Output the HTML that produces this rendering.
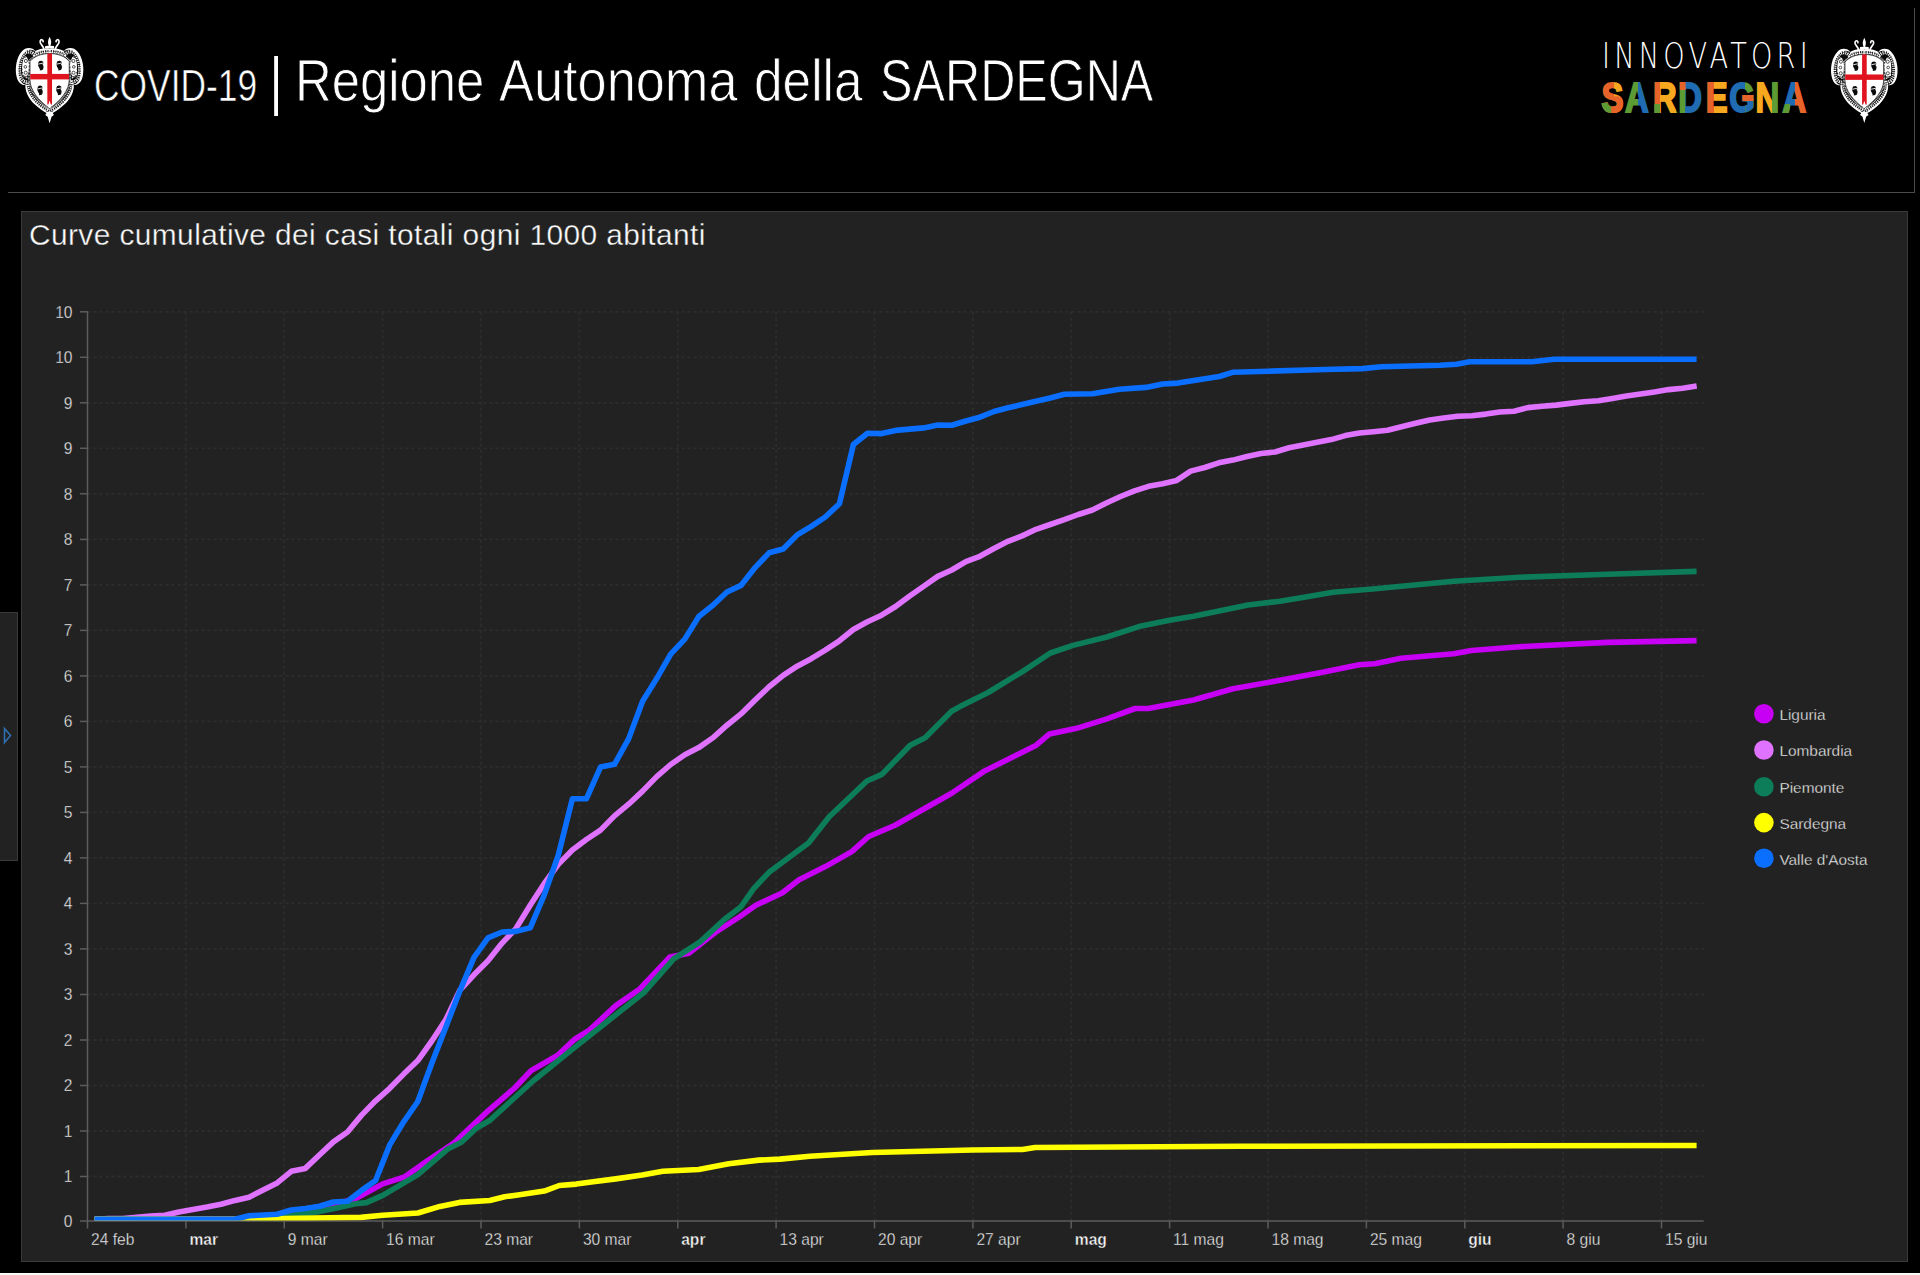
<!DOCTYPE html>
<html lang="it"><head><meta charset="utf-8"><title>COVID-19 | Regione Autonoma della SARDEGNA</title>
<style>
html,body{margin:0;padding:0;background:#000;}
body{width:1920px;height:1275px;position:relative;overflow:hidden;font-family:"Liberation Sans",sans-serif;color:#fff;}
.abs{position:absolute;}
#hdr{left:8px;top:8px;width:1906px;height:184px;border-right:1px solid #4a4a4a;border-bottom:1px solid #4a4a4a;}
.t{position:absolute;white-space:nowrap;line-height:1;transform-origin:0 0;color:#fff;}
#t1{-webkit-text-stroke:0.6px #000;left:93.85px;top:63.9px;font-size:43.8px;transform:scaleX(0.808);}
#bar{left:269.8px;top:48px;font-size:65px;transform:scaleX(0.72);}
.t2{top:51px;font-size:59.4px;-webkit-text-stroke:0.9px #000;}
#w1{left:294.5px;transform:scaleX(0.856);}
#w2{left:498.5px;transform:scaleX(0.881);}
#w3{left:753.8px;transform:scaleX(0.865);}
#w4{left:879.6px;transform:scaleX(0.82);}
#inn{left:1602.2px;top:38.2px;font-family:"DejaVu Sans Light","DejaVu Sans",sans-serif;font-weight:200;font-size:35.6px;letter-spacing:5.5px;transform:scaleX(0.764);}
#panel{left:21px;top:211px;width:1885px;height:1049px;background:#222;border:1px solid #3a3a3a;}
#ptitle{-webkit-text-stroke:0.35px #222;left:28.8px;top:220.5px;font-size:29px;color:#fbfbfb;letter-spacing:0.4px;transform:scaleX(1.03);}
#handle{left:-1px;top:612px;width:16.7px;height:247px;background:#222;border:1px solid #3a3a3a;}
#bottom{left:0;top:1273px;width:1920px;height:2px;background:#fafafa;}
svg{position:absolute;left:0;top:0;}
</style></head><body>
<div id="hdr" class="abs"></div>
<div id="t1" class="t">COVID-19</div>
<div id="bar" class="t">|</div>
<div id="w1" class="t t2">Regione</div> <div id="w2" class="t t2">Autonoma</div> <div id="w3" class="t t2">della</div> <div id="w4" class="t t2">SARDEGNA</div>
<div id="inn" class="t">INNOVATORI</div>
<div id="panel" class="abs"></div>
<div id="ptitle" class="t">Curve cumulative dei casi totali ogni 1000 abitanti</div>
<div id="handle" class="abs"></div>
<div id="bottom" class="abs"></div>
<svg width="1920" height="1275" viewBox="0 0 1920 1275">
<g transform="translate(10 30) scale(0.07843)"><path d="M505 235 C560 225 640 240 690 268 C715 222 810 205 860 275 C925 345 950 480 928 585 C912 665 865 705 812 700 C822 785 765 880 700 945 C640 1000 585 1040 545 1058 L560 1085 L530 1105 L505 1188 L480 1105 L450 1085 L465 1058 C425 1040 370 1000 310 945 C245 880 188 785 198 700 C145 705 98 665 82 585 C60 480 85 345 150 275 C200 205 295 222 320 268 C370 240 450 225 505 235 Z" fill="#ffffff"/><clipPath id="cc10"><rect x="0" y="0" width="1010" height="1045"/></clipPath><g clip-path="url(#cc10)"><path d="M505 235 C560 225 640 240 690 268 C715 222 810 205 860 275 C925 345 950 480 928 585 C912 665 865 705 812 700 C822 785 765 880 700 945 C640 1000 585 1040 545 1058 L560 1085 L530 1105 L505 1188 L480 1105 L450 1085 L465 1058 C425 1040 370 1000 310 945 C245 880 188 785 198 700 C145 705 98 665 82 585 C60 480 85 345 150 275 C200 205 295 222 320 268 C370 240 450 225 505 235 Z" fill="#0b0b0b" transform="translate(505 640) scale(0.925 0.94) translate(-505 -640)"/></g><path d="M505 85 C528 130 532 165 515 200 L560 205 L565 232 L445 232 L450 205 L495 200 C478 165 482 130 505 85 Z" fill="#ffffff"/><path d="M580 250 C572 200 640 185 625 140 C615 115 585 120 588 148 M430 250 C438 200 370 185 385 140 C395 115 425 120 422 148" fill="none" stroke="#ffffff" stroke-width="22" stroke-linecap="round"/><path d="M505 272 C580 266 650 284 700 314 C740 266 800 266 835 309 C880 364 900 480 885 570 C872 630 840 660 790 662 C800 760 745 850 685 910 C630 965 570 1005 505 1030 C440 1005 380 965 325 910 C265 850 210 760 220 662 C170 660 138 630 125 570 C110 480 130 364 175 309 C210 266 270 266 310 314 C360 284 430 266 505 272 Z" fill="none" stroke="#ffffff" stroke-width="42" stroke-dasharray="17 11"/><path d="M505 272 C580 266 650 284 700 314 C740 266 800 266 835 309 C880 364 900 480 885 570 C872 630 840 660 790 662 C800 760 745 850 685 910 C630 965 570 1005 505 1030 C440 1005 380 965 325 910 C265 850 210 760 220 662 C170 660 138 630 125 570 C110 480 130 364 175 309 C210 266 270 266 310 314 C360 284 430 266 505 272 Z" fill="none" stroke="#0b0b0b" stroke-width="7" stroke-dasharray="30 12"/><path d="M800 350 C845 400 855 520 838 600 M765 430 C800 450 808 560 792 620 M210 350 C165 400 155 520 172 600 M245 430 C210 450 202 560 218 620" fill="none" stroke="#ffffff" stroke-width="16" stroke-dasharray="26 16"/><ellipse cx="812" cy="470" rx="42" ry="135" fill="#ffffff"/><circle cx="808" cy="395" r="20" fill="none" stroke="#0b0b0b" stroke-width="9"/><circle cx="814" cy="470" r="17" fill="none" stroke="#0b0b0b" stroke-width="9"/><circle cx="810" cy="545" r="20" fill="none" stroke="#0b0b0b" stroke-width="9"/><path d="M777 330 L842 360 M774 600 L842 585" stroke="#0b0b0b" stroke-width="9" fill="none"/><ellipse cx="198" cy="470" rx="42" ry="135" fill="#ffffff"/><circle cx="202" cy="395" r="20" fill="none" stroke="#0b0b0b" stroke-width="9"/><circle cx="196" cy="470" r="17" fill="none" stroke="#0b0b0b" stroke-width="9"/><circle cx="200" cy="545" r="20" fill="none" stroke="#0b0b0b" stroke-width="9"/><path d="M233 330 L168 360 M236 600 L168 585" stroke="#0b0b0b" stroke-width="9" fill="none"/><path d="M505 300 C600 300 700 330 755 400 L755 640 C755 760 650 900 505 1000 C360 900 255 760 255 640 L255 400 C310 330 410 300 505 300 Z" fill="none" stroke="#ffffff" stroke-width="44" stroke-dasharray="9 9"/><path d="M505 300 C600 300 700 330 755 400 L755 640 C755 760 650 900 505 1000 C360 900 255 760 255 640 L255 400 C310 330 410 300 505 300 Z" fill="#ffffff" stroke="#0b0b0b" stroke-width="9"/><rect x="476" y="300" width="60" height="650" fill="#e0141e"/><rect x="258" y="560" width="494" height="70" fill="#e0141e"/><path d="M490 950 L505 900 L520 950 L520 990 L490 990 Z" fill="#fff"/><g transform="translate(395 455)"><path d="M-25 -55 C0 -75 35 -60 30 -30 L20 -15 C40 0 35 35 20 55 L-15 60 C-5 40 -30 25 -35 0 C-38 -20 -35 -40 -25 -55 Z" fill="#0a0a0a"/><path d="M-34 -20 L30 -34" stroke="#fff" stroke-width="11"/></g><g transform="translate(630 455)"><path d="M-25 -55 C0 -75 35 -60 30 -30 L20 -15 C40 0 35 35 20 55 L-15 60 C-5 40 -30 25 -35 0 C-38 -20 -35 -40 -25 -55 Z" fill="#0a0a0a"/><path d="M-34 -20 L30 -34" stroke="#fff" stroke-width="11"/></g><g transform="translate(385 772)"><path d="M-25 -55 C0 -75 35 -60 30 -30 L20 -15 C40 0 35 35 20 55 L-15 60 C-5 40 -30 25 -35 0 C-38 -20 -35 -40 -25 -55 Z" fill="#0a0a0a"/><path d="M-34 -20 L30 -34" stroke="#fff" stroke-width="11"/></g><g transform="translate(625 772)"><path d="M-25 -55 C0 -75 35 -60 30 -30 L20 -15 C40 0 35 35 20 55 L-15 60 C-5 40 -30 25 -35 0 C-38 -20 -35 -40 -25 -55 Z" fill="#0a0a0a"/><path d="M-34 -20 L30 -34" stroke="#fff" stroke-width="11"/></g></g>
<g transform="translate(1825.3005 31.200499999999995) scale(0.07725)"><path d="M505 235 C560 225 640 240 690 268 C715 222 810 205 860 275 C925 345 950 480 928 585 C912 665 865 705 812 700 C822 785 765 880 700 945 C640 1000 585 1040 545 1058 L560 1085 L530 1105 L505 1188 L480 1105 L450 1085 L465 1058 C425 1040 370 1000 310 945 C245 880 188 785 198 700 C145 705 98 665 82 585 C60 480 85 345 150 275 C200 205 295 222 320 268 C370 240 450 225 505 235 Z" fill="#ffffff"/><clipPath id="cc1825"><rect x="0" y="0" width="1010" height="1045"/></clipPath><g clip-path="url(#cc1825)"><path d="M505 235 C560 225 640 240 690 268 C715 222 810 205 860 275 C925 345 950 480 928 585 C912 665 865 705 812 700 C822 785 765 880 700 945 C640 1000 585 1040 545 1058 L560 1085 L530 1105 L505 1188 L480 1105 L450 1085 L465 1058 C425 1040 370 1000 310 945 C245 880 188 785 198 700 C145 705 98 665 82 585 C60 480 85 345 150 275 C200 205 295 222 320 268 C370 240 450 225 505 235 Z" fill="#0b0b0b" transform="translate(505 640) scale(0.925 0.94) translate(-505 -640)"/></g><path d="M505 85 C528 130 532 165 515 200 L560 205 L565 232 L445 232 L450 205 L495 200 C478 165 482 130 505 85 Z" fill="#ffffff"/><path d="M580 250 C572 200 640 185 625 140 C615 115 585 120 588 148 M430 250 C438 200 370 185 385 140 C395 115 425 120 422 148" fill="none" stroke="#ffffff" stroke-width="22" stroke-linecap="round"/><path d="M505 272 C580 266 650 284 700 314 C740 266 800 266 835 309 C880 364 900 480 885 570 C872 630 840 660 790 662 C800 760 745 850 685 910 C630 965 570 1005 505 1030 C440 1005 380 965 325 910 C265 850 210 760 220 662 C170 660 138 630 125 570 C110 480 130 364 175 309 C210 266 270 266 310 314 C360 284 430 266 505 272 Z" fill="none" stroke="#ffffff" stroke-width="42" stroke-dasharray="17 11"/><path d="M505 272 C580 266 650 284 700 314 C740 266 800 266 835 309 C880 364 900 480 885 570 C872 630 840 660 790 662 C800 760 745 850 685 910 C630 965 570 1005 505 1030 C440 1005 380 965 325 910 C265 850 210 760 220 662 C170 660 138 630 125 570 C110 480 130 364 175 309 C210 266 270 266 310 314 C360 284 430 266 505 272 Z" fill="none" stroke="#0b0b0b" stroke-width="7" stroke-dasharray="30 12"/><path d="M800 350 C845 400 855 520 838 600 M765 430 C800 450 808 560 792 620 M210 350 C165 400 155 520 172 600 M245 430 C210 450 202 560 218 620" fill="none" stroke="#ffffff" stroke-width="16" stroke-dasharray="26 16"/><ellipse cx="812" cy="470" rx="42" ry="135" fill="#ffffff"/><circle cx="808" cy="395" r="20" fill="none" stroke="#0b0b0b" stroke-width="9"/><circle cx="814" cy="470" r="17" fill="none" stroke="#0b0b0b" stroke-width="9"/><circle cx="810" cy="545" r="20" fill="none" stroke="#0b0b0b" stroke-width="9"/><path d="M777 330 L842 360 M774 600 L842 585" stroke="#0b0b0b" stroke-width="9" fill="none"/><ellipse cx="198" cy="470" rx="42" ry="135" fill="#ffffff"/><circle cx="202" cy="395" r="20" fill="none" stroke="#0b0b0b" stroke-width="9"/><circle cx="196" cy="470" r="17" fill="none" stroke="#0b0b0b" stroke-width="9"/><circle cx="200" cy="545" r="20" fill="none" stroke="#0b0b0b" stroke-width="9"/><path d="M233 330 L168 360 M236 600 L168 585" stroke="#0b0b0b" stroke-width="9" fill="none"/><path d="M505 300 C600 300 700 330 755 400 L755 640 C755 760 650 900 505 1000 C360 900 255 760 255 640 L255 400 C310 330 410 300 505 300 Z" fill="none" stroke="#ffffff" stroke-width="44" stroke-dasharray="9 9"/><path d="M505 300 C600 300 700 330 755 400 L755 640 C755 760 650 900 505 1000 C360 900 255 760 255 640 L255 400 C310 330 410 300 505 300 Z" fill="#ffffff" stroke="#0b0b0b" stroke-width="9"/><rect x="476" y="300" width="60" height="650" fill="#e0141e"/><rect x="258" y="560" width="494" height="70" fill="#e0141e"/><path d="M490 950 L505 900 L520 950 L520 990 L490 990 Z" fill="#fff"/><g transform="translate(395 455)"><path d="M-25 -55 C0 -75 35 -60 30 -30 L20 -15 C40 0 35 35 20 55 L-15 60 C-5 40 -30 25 -35 0 C-38 -20 -35 -40 -25 -55 Z" fill="#0a0a0a"/><path d="M-34 -20 L30 -34" stroke="#fff" stroke-width="11"/></g><g transform="translate(630 455)"><path d="M-25 -55 C0 -75 35 -60 30 -30 L20 -15 C40 0 35 35 20 55 L-15 60 C-5 40 -30 25 -35 0 C-38 -20 -35 -40 -25 -55 Z" fill="#0a0a0a"/><path d="M-34 -20 L30 -34" stroke="#fff" stroke-width="11"/></g><g transform="translate(385 772)"><path d="M-25 -55 C0 -75 35 -60 30 -30 L20 -15 C40 0 35 35 20 55 L-15 60 C-5 40 -30 25 -35 0 C-38 -20 -35 -40 -25 -55 Z" fill="#0a0a0a"/><path d="M-34 -20 L30 -34" stroke="#fff" stroke-width="11"/></g><g transform="translate(625 772)"><path d="M-25 -55 C0 -75 35 -60 30 -30 L20 -15 C40 0 35 35 20 55 L-15 60 C-5 40 -30 25 -35 0 C-38 -20 -35 -40 -25 -55 Z" fill="#0a0a0a"/><path d="M-34 -20 L30 -34" stroke="#fff" stroke-width="11"/></g></g>
<defs><linearGradient id="sg" gradientUnits="userSpaceOnUse" x1="2080.39" y1="0" x2="2348.05" y2="0"><stop offset="0.0000" stop-color="#e8632a"/><stop offset="0.0563" stop-color="#e8632a"/><stop offset="0.0563" stop-color="#f8a81f"/><stop offset="0.1087" stop-color="#f8a81f"/><stop offset="0.1087" stop-color="#5d9b34"/><stop offset="0.1752" stop-color="#5d9b34"/><stop offset="0.1752" stop-color="#1f6cb3"/><stop offset="0.2407" stop-color="#1f6cb3"/><stop offset="0.2407" stop-color="#e8632a"/><stop offset="0.2819" stop-color="#e8632a"/><stop offset="0.2819" stop-color="#f8a81f"/><stop offset="0.3595" stop-color="#f8a81f"/><stop offset="0.3595" stop-color="#5d9b34"/><stop offset="0.4056" stop-color="#5d9b34"/><stop offset="0.4056" stop-color="#1f6cb3"/><stop offset="0.4954" stop-color="#1f6cb3"/><stop offset="0.4954" stop-color="#e8632a"/><stop offset="0.5415" stop-color="#e8632a"/><stop offset="0.5415" stop-color="#f8a81f"/><stop offset="0.6118" stop-color="#f8a81f"/><stop offset="0.6118" stop-color="#1f6cb3"/><stop offset="0.6967" stop-color="#1f6cb3"/><stop offset="0.6967" stop-color="#5d9b34"/><stop offset="0.7356" stop-color="#5d9b34"/><stop offset="0.7356" stop-color="#f8a81f"/><stop offset="0.8253" stop-color="#f8a81f"/><stop offset="0.8253" stop-color="#5d9b34"/><stop offset="0.8690" stop-color="#5d9b34"/><stop offset="0.8690" stop-color="#1f6cb3"/><stop offset="0.9393" stop-color="#1f6cb3"/><stop offset="0.9393" stop-color="#e8632a"/><stop offset="1.0000" stop-color="#e8632a"/></linearGradient><clipPath id="cp0"><rect x="1601" y="102.5" width="10.5" height="12"/></clipPath><clipPath id="cp1"><rect x="1611.5" y="96.5" width="12.8" height="18"/></clipPath><clipPath id="cp2"><rect x="1651.5" y="104" width="8.5" height="10"/></clipPath><clipPath id="cp3"><rect x="1676" y="80" width="9.5" height="10"/></clipPath><clipPath id="cp4"><rect x="1741" y="92.5" width="12.5" height="8.5"/></clipPath><clipPath id="cp5"><rect x="1745.5" y="101" width="8" height="13"/></clipPath><clipPath id="cp6"><rect x="1781" y="104" width="9" height="10"/></clipPath></defs><text transform="scale(0.77 1)" x="2079.74 2110.26 2146.75 2179.48 2215.32 2245.71 2280.00 2315.06" y="111.6" font-family="Liberation Sans, sans-serif" font-weight="bold" font-size="42.6" fill="url(#sg)" stroke="url(#sg)" stroke-width="2" stroke-linejoin="miter" >SARDEGNA</text><g clip-path="url(#cp0)"><text transform="scale(0.77 1)" x="2079.74 2110.26 2146.75 2179.48 2215.32 2245.71 2280.00 2315.06" y="111.6" font-family="Liberation Sans, sans-serif" font-weight="bold" font-size="42.6" fill="#5d9b34" stroke="#5d9b34" stroke-width="2" stroke-linejoin="miter" >SARDEGNA</text></g><g clip-path="url(#cp1)"><text transform="scale(0.77 1)" x="2079.74 2110.26 2146.75 2179.48 2215.32 2245.71 2280.00 2315.06" y="111.6" font-family="Liberation Sans, sans-serif" font-weight="bold" font-size="42.6" fill="#e8632a" stroke="#e8632a" stroke-width="2" stroke-linejoin="miter" >SARDEGNA</text></g><g clip-path="url(#cp2)"><text transform="scale(0.77 1)" x="2079.74 2110.26 2146.75 2179.48 2215.32 2245.71 2280.00 2315.06" y="111.6" font-family="Liberation Sans, sans-serif" font-weight="bold" font-size="42.6" fill="#5d9b34" stroke="#5d9b34" stroke-width="2" stroke-linejoin="miter" >SARDEGNA</text></g><g clip-path="url(#cp3)"><text transform="scale(0.77 1)" x="2079.74 2110.26 2146.75 2179.48 2215.32 2245.71 2280.00 2315.06" y="111.6" font-family="Liberation Sans, sans-serif" font-weight="bold" font-size="42.6" fill="#e8632a" stroke="#e8632a" stroke-width="2" stroke-linejoin="miter" >SARDEGNA</text></g><g clip-path="url(#cp4)"><text transform="scale(0.77 1)" x="2079.74 2110.26 2146.75 2179.48 2215.32 2245.71 2280.00 2315.06" y="111.6" font-family="Liberation Sans, sans-serif" font-weight="bold" font-size="42.6" fill="#e8632a" stroke="#e8632a" stroke-width="2" stroke-linejoin="miter" >SARDEGNA</text></g><g clip-path="url(#cp5)"><text transform="scale(0.77 1)" x="2079.74 2110.26 2146.75 2179.48 2215.32 2245.71 2280.00 2315.06" y="111.6" font-family="Liberation Sans, sans-serif" font-weight="bold" font-size="42.6" fill="#1f6cb3" stroke="#1f6cb3" stroke-width="2" stroke-linejoin="miter" >SARDEGNA</text></g><g clip-path="url(#cp6)"><text transform="scale(0.77 1)" x="2079.74 2110.26 2146.75 2179.48 2215.32 2245.71 2280.00 2315.06" y="111.6" font-family="Liberation Sans, sans-serif" font-weight="bold" font-size="42.6" fill="#5d9b34" stroke="#5d9b34" stroke-width="2" stroke-linejoin="miter" >SARDEGNA</text></g>
<path d="M4.5 728.5 L10.5 735.5 L4.5 742.5 Z" fill="none" stroke="#2f6fb0" stroke-width="1.6"/>
<g stroke="#2d2d2d" stroke-width="1.8" stroke-dasharray="3 3" fill="none"><line x1="87.5" y1="1176.5" x2="1703.7" y2="1176.5"/><line x1="87.5" y1="1131.0" x2="1703.7" y2="1131.0"/><line x1="87.5" y1="1085.5" x2="1703.7" y2="1085.5"/><line x1="87.5" y1="1040.0" x2="1703.7" y2="1040.0"/><line x1="87.5" y1="994.5" x2="1703.7" y2="994.5"/><line x1="87.5" y1="948.9" x2="1703.7" y2="948.9"/><line x1="87.5" y1="903.4" x2="1703.7" y2="903.4"/><line x1="87.5" y1="857.9" x2="1703.7" y2="857.9"/><line x1="87.5" y1="812.4" x2="1703.7" y2="812.4"/><line x1="87.5" y1="766.9" x2="1703.7" y2="766.9"/><line x1="87.5" y1="721.4" x2="1703.7" y2="721.4"/><line x1="87.5" y1="675.9" x2="1703.7" y2="675.9"/><line x1="87.5" y1="630.4" x2="1703.7" y2="630.4"/><line x1="87.5" y1="584.9" x2="1703.7" y2="584.9"/><line x1="87.5" y1="539.4" x2="1703.7" y2="539.4"/><line x1="87.5" y1="493.8" x2="1703.7" y2="493.8"/><line x1="87.5" y1="448.3" x2="1703.7" y2="448.3"/><line x1="87.5" y1="402.8" x2="1703.7" y2="402.8"/><line x1="87.5" y1="357.3" x2="1703.7" y2="357.3"/><line x1="87.5" y1="311.8" x2="1703.7" y2="311.8"/><line x1="185.9" y1="311.8" x2="185.9" y2="1220.9"/><line x1="284.2" y1="311.8" x2="284.2" y2="1220.9"/><line x1="382.6" y1="311.8" x2="382.6" y2="1220.9"/><line x1="481.0" y1="311.8" x2="481.0" y2="1220.9"/><line x1="579.4" y1="311.8" x2="579.4" y2="1220.9"/><line x1="677.8" y1="311.8" x2="677.8" y2="1220.9"/><line x1="776.1" y1="311.8" x2="776.1" y2="1220.9"/><line x1="874.5" y1="311.8" x2="874.5" y2="1220.9"/><line x1="972.9" y1="311.8" x2="972.9" y2="1220.9"/><line x1="1071.2" y1="311.8" x2="1071.2" y2="1220.9"/><line x1="1169.6" y1="311.8" x2="1169.6" y2="1220.9"/><line x1="1268.0" y1="311.8" x2="1268.0" y2="1220.9"/><line x1="1366.4" y1="311.8" x2="1366.4" y2="1220.9"/><line x1="1464.8" y1="311.8" x2="1464.8" y2="1220.9"/><line x1="1563.1" y1="311.8" x2="1563.1" y2="1220.9"/><line x1="1661.5" y1="311.8" x2="1661.5" y2="1220.9"/></g>
<g stroke="#5c5c5c" stroke-width="1.5" fill="none"><line x1="87.5" y1="311.3" x2="87.5" y2="1228.4"/><line x1="80.0" y1="1220.9" x2="1703.7" y2="1220.9"/><line x1="80.0" y1="1176.5" x2="87.5" y2="1176.5"/><line x1="80.0" y1="1131.0" x2="87.5" y2="1131.0"/><line x1="80.0" y1="1085.5" x2="87.5" y2="1085.5"/><line x1="80.0" y1="1040.0" x2="87.5" y2="1040.0"/><line x1="80.0" y1="994.5" x2="87.5" y2="994.5"/><line x1="80.0" y1="948.9" x2="87.5" y2="948.9"/><line x1="80.0" y1="903.4" x2="87.5" y2="903.4"/><line x1="80.0" y1="857.9" x2="87.5" y2="857.9"/><line x1="80.0" y1="812.4" x2="87.5" y2="812.4"/><line x1="80.0" y1="766.9" x2="87.5" y2="766.9"/><line x1="80.0" y1="721.4" x2="87.5" y2="721.4"/><line x1="80.0" y1="675.9" x2="87.5" y2="675.9"/><line x1="80.0" y1="630.4" x2="87.5" y2="630.4"/><line x1="80.0" y1="584.9" x2="87.5" y2="584.9"/><line x1="80.0" y1="539.4" x2="87.5" y2="539.4"/><line x1="80.0" y1="493.8" x2="87.5" y2="493.8"/><line x1="80.0" y1="448.3" x2="87.5" y2="448.3"/><line x1="80.0" y1="402.8" x2="87.5" y2="402.8"/><line x1="80.0" y1="357.3" x2="87.5" y2="357.3"/><line x1="80.0" y1="311.8" x2="87.5" y2="311.8"/><line x1="185.9" y1="1220.9" x2="185.9" y2="1228.4"/><line x1="284.2" y1="1220.9" x2="284.2" y2="1228.4"/><line x1="382.6" y1="1220.9" x2="382.6" y2="1228.4"/><line x1="481.0" y1="1220.9" x2="481.0" y2="1228.4"/><line x1="579.4" y1="1220.9" x2="579.4" y2="1228.4"/><line x1="677.8" y1="1220.9" x2="677.8" y2="1228.4"/><line x1="776.1" y1="1220.9" x2="776.1" y2="1228.4"/><line x1="874.5" y1="1220.9" x2="874.5" y2="1228.4"/><line x1="972.9" y1="1220.9" x2="972.9" y2="1228.4"/><line x1="1071.2" y1="1220.9" x2="1071.2" y2="1228.4"/><line x1="1169.6" y1="1220.9" x2="1169.6" y2="1228.4"/><line x1="1268.0" y1="1220.9" x2="1268.0" y2="1228.4"/><line x1="1366.4" y1="1220.9" x2="1366.4" y2="1228.4"/><line x1="1464.8" y1="1220.9" x2="1464.8" y2="1228.4"/><line x1="1563.1" y1="1220.9" x2="1563.1" y2="1228.4"/><line x1="1661.5" y1="1220.9" x2="1661.5" y2="1228.4"/></g>
<g fill="#f6f6f6" stroke="#222" stroke-width="0.35" font-family="Liberation Sans, sans-serif" font-size="15.6"><text x="72.5" y="1226.6" text-anchor="end">0</text><text x="72.5" y="1182.2" text-anchor="end">1</text><text x="72.5" y="1136.7" text-anchor="end">1</text><text x="72.5" y="1091.2" text-anchor="end">2</text><text x="72.5" y="1045.7" text-anchor="end">2</text><text x="72.5" y="1000.2" text-anchor="end">3</text><text x="72.5" y="954.6" text-anchor="end">3</text><text x="72.5" y="909.1" text-anchor="end">4</text><text x="72.5" y="863.6" text-anchor="end">4</text><text x="72.5" y="818.1" text-anchor="end">5</text><text x="72.5" y="772.6" text-anchor="end">5</text><text x="72.5" y="727.1" text-anchor="end">6</text><text x="72.5" y="681.6" text-anchor="end">6</text><text x="72.5" y="636.1" text-anchor="end">7</text><text x="72.5" y="590.6" text-anchor="end">7</text><text x="72.5" y="545.1" text-anchor="end">8</text><text x="72.5" y="499.5" text-anchor="end">8</text><text x="72.5" y="454.0" text-anchor="end">9</text><text x="72.5" y="408.5" text-anchor="end">9</text><text x="72.5" y="363.0" text-anchor="end">10</text><text x="72.5" y="317.5" text-anchor="end">10</text><text x="91.0" y="1244.6">24 feb</text><text x="189.4" y="1244.6" font-weight="bold">mar</text><text x="287.8" y="1244.6">9 mar</text><text x="386.1" y="1244.6">16 mar</text><text x="484.5" y="1244.6">23 mar</text><text x="582.9" y="1244.6">30 mar</text><text x="681.2" y="1244.6" font-weight="bold">apr</text><text x="779.6" y="1244.6">13 apr</text><text x="878.0" y="1244.6">20 apr</text><text x="976.4" y="1244.6">27 apr</text><text x="1074.8" y="1244.6" font-weight="bold">mag</text><text x="1173.1" y="1244.6">11 mag</text><text x="1271.5" y="1244.6">18 mag</text><text x="1369.9" y="1244.6">25 mag</text><text x="1468.2" y="1244.6" font-weight="bold">giu</text><text x="1566.6" y="1244.6">8 giu</text><text x="1665.0" y="1244.6">15 giu</text></g>
<defs><clipPath id="plot"><rect x="87.5" y="301.8" width="1616.2" height="918.6"/></clipPath></defs><g clip-path="url(#plot)">
<polyline points="94.5,1219.4 180.0,1219.4 250.0,1218.5 291.0,1214.5 320.0,1210.0 340.0,1203.0 355.3,1198.7 382.8,1183.9 404.7,1176.8 426.7,1161.4 453.9,1143.1 487.8,1111.1 514.1,1088.5 531.1,1070.6 557.4,1055.5 574.4,1039.5 589.5,1030.1 615.8,1005.6 639.8,989.0 670.0,957.0 688.8,953.2 715.2,932.5 740.0,916.5 755.8,905.2 782.1,893.0 799.1,879.8 825.4,866.6 851.8,851.6 868.7,836.5 895.1,825.2 951.6,793.2 983.6,771.6 1013.7,756.5 1036.3,745.2 1049.5,733.9 1076.7,728.3 1106.9,718.9 1135.1,708.5 1148.3,708.5 1193.5,700.0 1233.0,688.7 1280.1,680.3 1320.0,672.7 1359.3,664.8 1374.7,663.7 1401.1,658.2 1453.8,653.8 1471.4,650.5 1519.7,646.7 1607.6,642.4 1696.6,640.6" fill="none" stroke="#c700f5" stroke-width="5.6" stroke-linejoin="round" stroke-linecap="butt"/>
<polyline points="94.5,1219.2 108.6,1218.6 122.6,1218.5 136.7,1217.2 150.7,1216.0 164.8,1215.2 178.9,1211.9 192.9,1209.5 207.0,1207.1 221.0,1204.3 235.1,1200.4 249.1,1197.2 263.2,1189.9 277.2,1182.9 291.3,1171.3 305.3,1168.4 319.4,1155.0 333.4,1141.9 347.5,1132.0 361.6,1115.1 375.6,1100.8 389.7,1088.3 403.7,1074.1 417.8,1060.6 431.8,1041.0 445.9,1019.5 459.9,990.1 474.0,974.8 488.0,960.7 502.1,943.1 516.1,928.3 530.2,905.3 544.3,883.5 558.3,864.4 572.4,850.0 586.4,839.5 600.5,830.1 614.5,815.9 628.6,804.2 642.6,791.1 656.7,776.6 670.7,764.5 684.8,754.8 698.8,747.6 712.9,737.8 727.0,725.2 741.0,713.9 755.1,700.0 769.1,686.8 783.2,675.4 797.2,666.2 811.3,658.7 825.3,650.2 839.4,640.8 853.4,629.5 867.5,621.8 881.6,615.2 895.6,606.5 909.7,596.0 923.7,586.3 937.8,576.4 951.8,570.0 965.9,561.6 979.9,556.3 994.0,548.5 1008.0,541.3 1022.1,535.9 1036.1,529.3 1050.2,524.5 1064.3,519.7 1078.3,514.5 1092.4,510.0 1106.4,503.0 1120.5,496.5 1134.5,490.8 1148.6,486.3 1162.6,483.7 1176.7,480.4 1190.7,471.1 1204.8,467.5 1218.8,462.8 1232.9,460.1 1247.0,456.5 1261.0,453.5 1275.1,452.0 1289.1,447.8 1303.2,445.1 1317.2,442.3 1331.3,439.6 1345.3,435.6 1359.4,433.0 1373.4,431.7 1387.5,430.3 1401.5,426.8 1415.6,423.3 1429.7,420.1 1443.7,418.1 1457.8,416.2 1471.8,415.8 1485.9,414.1 1499.9,412.0 1514.0,411.2 1528.0,407.6 1542.1,406.3 1556.1,405.1 1570.2,403.4 1584.3,401.7 1598.3,400.8 1612.4,398.5 1626.4,396.0 1640.5,394.1 1654.5,391.9 1668.6,389.6 1682.6,388.3 1696.7,386.1" fill="none" stroke="#df73ff" stroke-width="5.6" stroke-linejoin="round" stroke-linecap="butt"/>
<polyline points="94.5,1219.4 200.0,1219.4 250.0,1219.0 283.9,1216.3 316.9,1211.9 338.8,1207.5 355.3,1203.7 366.3,1202.6 382.8,1195.4 399.3,1185.6 417.9,1174.6 448.2,1148.7 461.4,1142.2 476.5,1128.0 489.7,1120.5 533.0,1081.0 576.3,1046.1 608.3,1020.7 643.6,992.8 673.7,958.9 700.1,941.9 724.6,919.3 740.7,907.1 753.9,888.3 769.0,872.3 808.5,843.1 829.2,816.7 866.9,781.0 881.9,774.4 910.2,745.2 925.2,737.7 951.6,711.3 960.0,706.6 988.2,692.5 1022.1,671.8 1050.4,653.0 1073.0,645.4 1106.9,637.0 1138.9,626.6 1170.9,620.0 1193.5,616.3 1248.1,605.0 1280.1,601.2 1310.0,596.3 1333.0,592.3 1372.5,589.0 1453.8,581.3 1519.7,577.3 1607.6,574.3 1696.6,571.4" fill="none" stroke="#0c7c59" stroke-width="5.6" stroke-linejoin="round" stroke-linecap="butt"/>
<polyline points="94.5,1219.4 250.0,1219.4 283.9,1218.5 360.8,1217.4 382.8,1215.2 417.9,1213.0 440.0,1206.4 459.5,1202.4 489.7,1200.5 504.7,1196.8 517.9,1194.9 544.3,1191.1 559.3,1185.5 576.3,1184.1 593.2,1181.7 615.8,1178.9 642.2,1175.1 662.9,1171.3 698.7,1169.5 728.8,1163.8 758.9,1160.1 780.0,1159.1 810.0,1156.3 872.5,1152.5 972.5,1150.0 1022.5,1149.5 1035.0,1147.5 1160.0,1146.8 1240.0,1146.3 1696.6,1145.5" fill="none" stroke="#ffff00" stroke-width="5.6" stroke-linejoin="round" stroke-linecap="butt"/>
<polyline points="94.5,1219.4 108.6,1219.4 122.6,1219.4 136.7,1219.4 150.7,1219.4 164.8,1219.4 178.9,1219.4 192.9,1219.4 207.0,1219.4 221.0,1219.4 235.1,1219.3 249.1,1215.7 263.2,1215.0 277.2,1214.3 291.3,1210.0 305.3,1208.5 319.4,1206.3 333.4,1202.0 347.5,1201.2 361.6,1190.4 375.6,1180.5 389.7,1144.9 403.7,1121.8 417.8,1101.5 431.8,1063.2 445.9,1027.0 459.9,990.8 474.0,957.3 488.0,937.8 502.1,932.0 516.1,931.4 530.2,927.8 544.3,894.9 558.3,855.3 572.4,798.8 586.4,798.8 600.5,767.1 614.5,764.3 628.6,738.9 642.6,701.2 656.7,678.6 670.7,654.1 684.8,639.1 698.8,616.5 712.9,605.2 727.0,592.0 741.0,585.4 755.1,567.6 769.1,552.8 783.2,549.0 797.2,534.9 811.3,526.4 825.3,517.0 839.4,503.8 853.4,444.5 867.5,433.2 881.6,433.6 895.6,430.4 909.7,429.1 923.7,427.9 937.8,425.1 951.8,425.3 965.9,421.0 979.9,417.2 994.0,411.5 1008.0,407.8 1022.1,404.6 1036.1,401.2 1050.2,398.0 1064.3,394.2 1078.3,394.0 1092.4,393.7 1119.5,389.3 1145.9,387.4 1162.8,384.0 1177.9,383.1 1219.3,376.5 1232.5,372.3 1268.3,371.2 1324.8,369.5 1362.4,368.6 1381.3,366.7 1440.0,365.2 1456.5,364.2 1469.7,361.8 1531.8,361.8 1554.4,359.2 1696.6,359.2" fill="none" stroke="#0a6eff" stroke-width="5.6" stroke-linejoin="round" stroke-linecap="butt"/>
</g>
<circle cx="1763.9" cy="713.8" r="9.8" fill="#c700f5"/>
<text x="1779.4" y="720.1" fill="#f6f6f6" stroke="#222" stroke-width="0.35" font-family="Liberation Sans, sans-serif" font-size="15.4">Liguria</text>
<circle cx="1763.9" cy="750" r="9.8" fill="#df73ff"/>
<text x="1779.4" y="756.3" fill="#f6f6f6" stroke="#222" stroke-width="0.35" font-family="Liberation Sans, sans-serif" font-size="15.4">Lombardia</text>
<circle cx="1763.9" cy="786.8" r="9.8" fill="#0c7c59"/>
<text x="1779.4" y="793.1" fill="#f6f6f6" stroke="#222" stroke-width="0.35" font-family="Liberation Sans, sans-serif" font-size="15.4">Piemonte</text>
<circle cx="1763.9" cy="822.6" r="9.8" fill="#ffff00"/>
<text x="1779.4" y="828.9" fill="#f6f6f6" stroke="#222" stroke-width="0.35" font-family="Liberation Sans, sans-serif" font-size="15.4">Sardegna</text>
<circle cx="1763.9" cy="858.2" r="9.8" fill="#0a6eff"/>
<text x="1779.4" y="864.5" fill="#f6f6f6" stroke="#222" stroke-width="0.35" font-family="Liberation Sans, sans-serif" font-size="15.4">Valle d'Aosta</text>
</svg>
</body></html>
